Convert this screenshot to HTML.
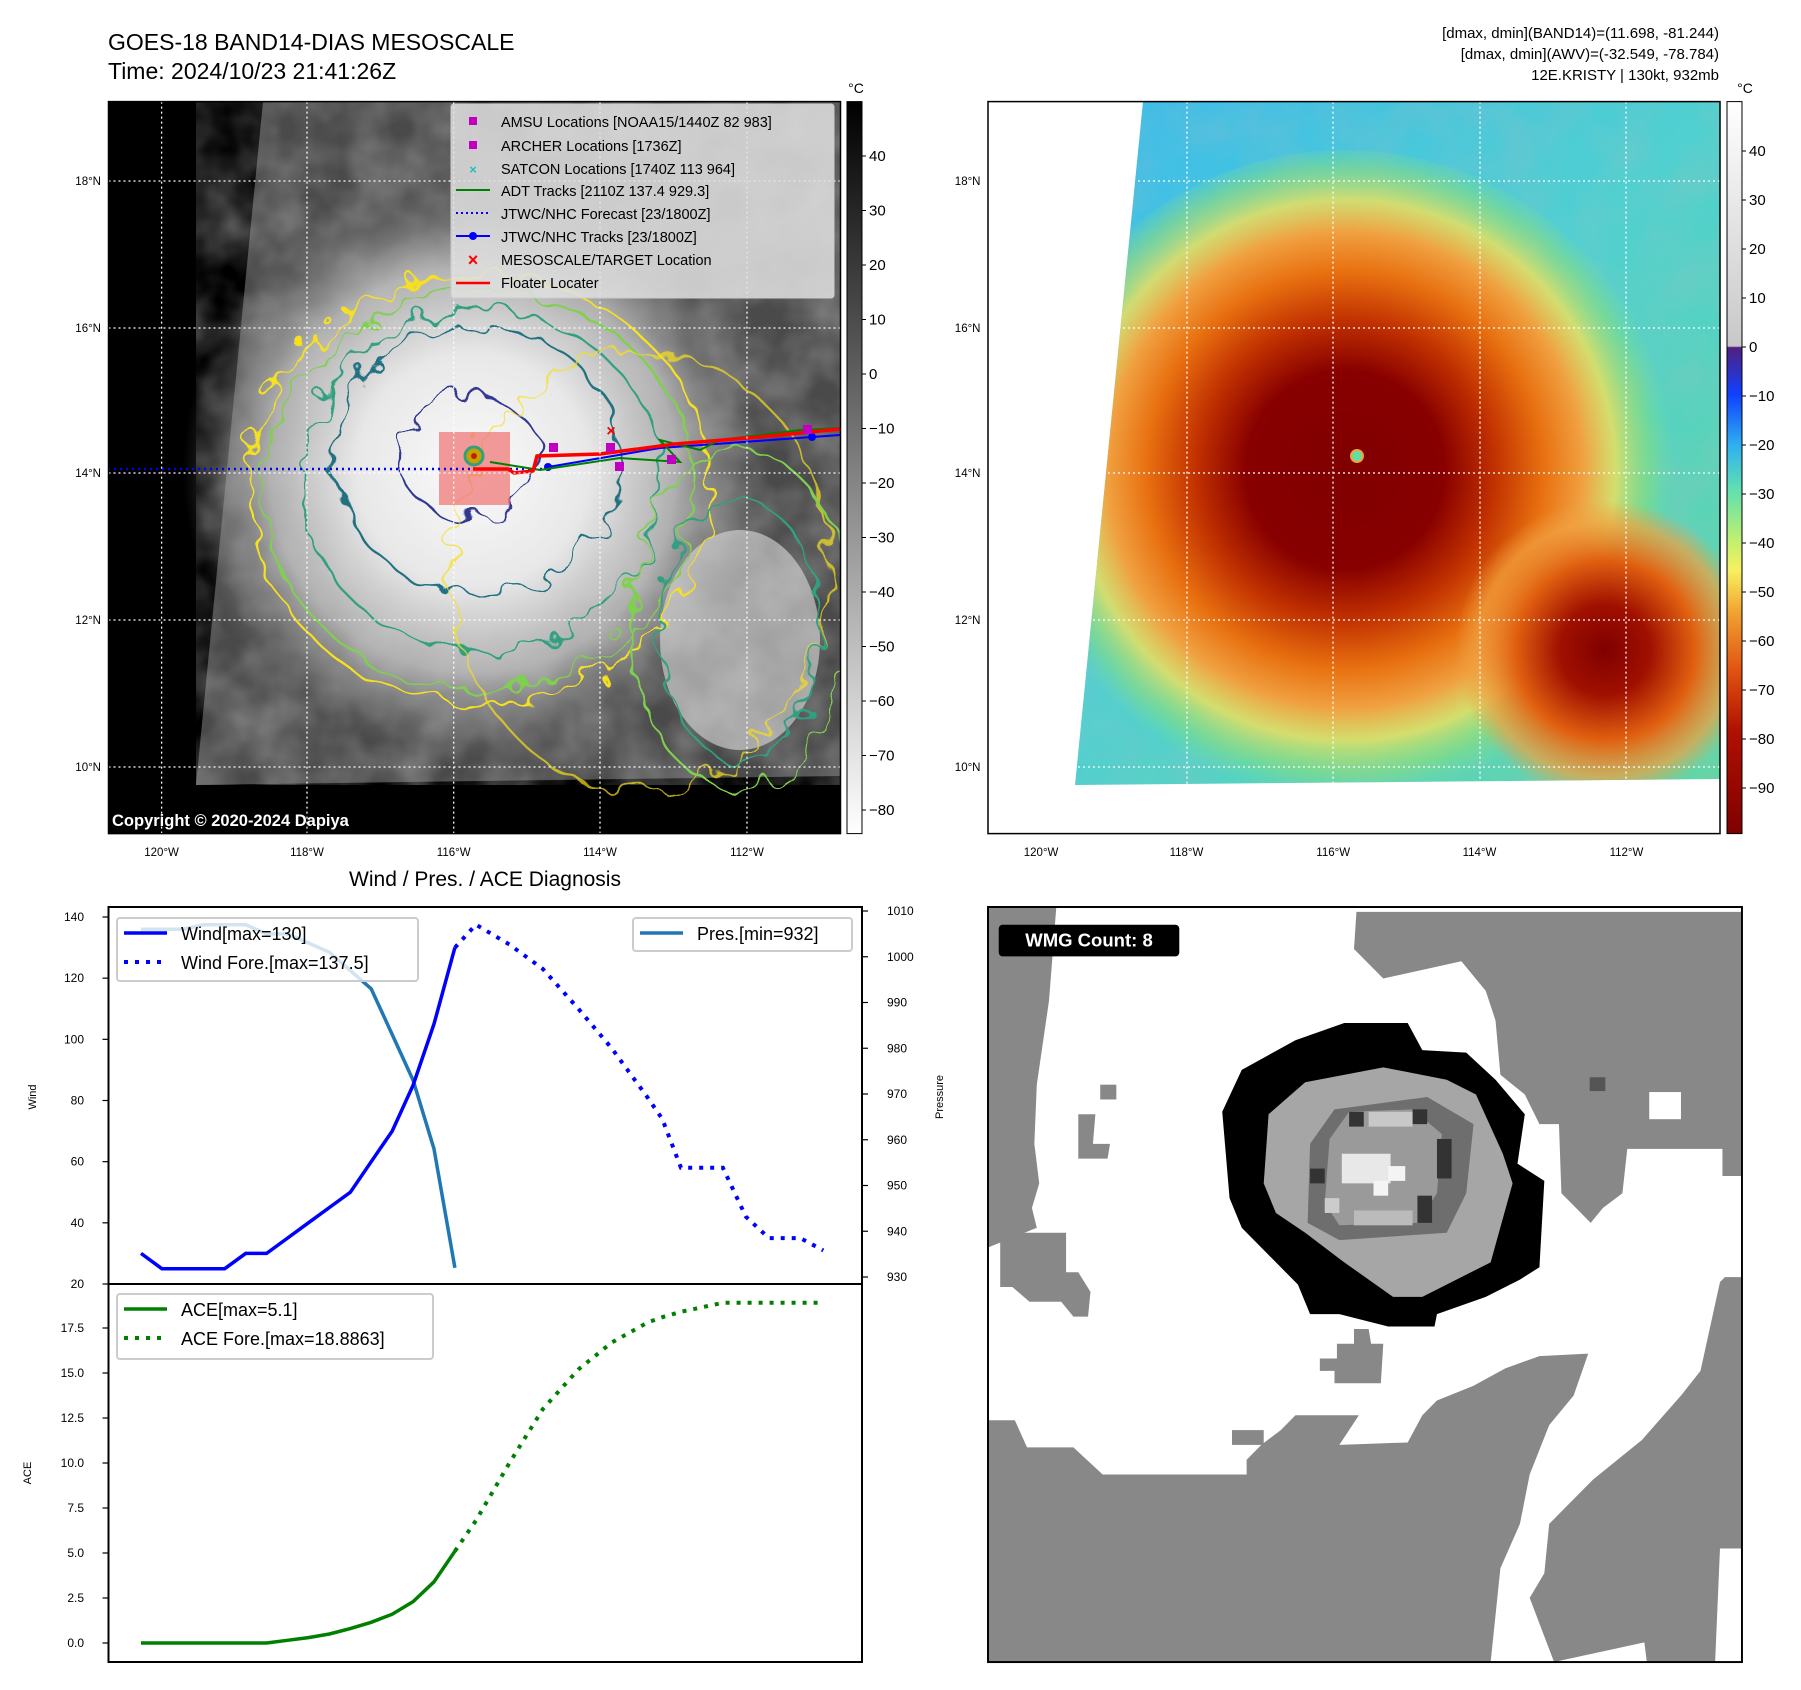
<!DOCTYPE html>
<html><head><meta charset="utf-8">
<style>
html,body{margin:0;padding:0;background:#fff;}
svg{display:block;font-family:"Liberation Sans","DejaVu Sans",sans-serif;}
</style></head>
<body>
<svg id="root" width="1801" height="1690" viewBox="0 0 1801 1690" xmlns="http://www.w3.org/2000/svg">
<defs>
  <filter id="wig" x="-20%" y="-20%" width="140%" height="140%">
    <feTurbulence type="fractalNoise" baseFrequency="0.035" numOctaves="2" seed="3"/>
    <feDisplacementMap in="SourceGraphic" scale="38"/>
  </filter>
  <filter id="tex" x="0" y="0" width="100%" height="100%">
    <feTurbulence type="fractalNoise" baseFrequency="0.02" numOctaves="3" seed="7" result="n"/>
    <feColorMatrix type="matrix" values="0 0 0 0 0.5  0 0 0 0 0.5  0 0 0 0 0.5  0 0 0 0.9 -0.25"/>
  </filter>
  <radialGradient id="gstorm" cx="473" cy="470" r="290" gradientUnits="userSpaceOnUse">
    <stop offset="0" stop-color="#fafafa"/>
    <stop offset="0.4" stop-color="#e8e8e8"/>
    <stop offset="0.7" stop-color="#c0c0c0" stop-opacity="0.85"/>
    <stop offset="1" stop-color="#888" stop-opacity="0"/>
  </radialGradient>
  <radialGradient id="gstorm2" cx="1440" cy="640" r="120" gradientUnits="userSpaceOnUse">
    <stop offset="0" stop-color="#f4f4f4"/>
    <stop offset="1" stop-color="#ccc" stop-opacity="0"/>
  </radialGradient>
  <linearGradient id="cb1" x1="0" y1="0" x2="0" y2="1">
    <stop offset="0" stop-color="#000"/><stop offset="1" stop-color="#fff"/>
  </linearGradient>
  <linearGradient id="cb2" x1="0" y1="0" x2="0" y2="1">
    <stop offset="0" stop-color="#ffffff"/>
    <stop offset="0.334" stop-color="#c8c8c8"/>
    <stop offset="0.336" stop-color="#502080"/>
    <stop offset="0.4" stop-color="#1040ff"/>
    <stop offset="0.47" stop-color="#30b0f0"/>
    <stop offset="0.53" stop-color="#60e0b0"/>
    <stop offset="0.6" stop-color="#c0f070"/>
    <stop offset="0.64" stop-color="#f8f060"/>
    <stop offset="0.7" stop-color="#f0a030"/>
    <stop offset="0.78" stop-color="#e05010"/>
    <stop offset="0.86" stop-color="#b01000"/>
    <stop offset="1" stop-color="#800000"/>
  </linearGradient>
  <linearGradient id="bgIR" x1="0" y1="0" x2="1" y2="1">
    <stop offset="0" stop-color="#38b8f0"/>
    <stop offset="0.5" stop-color="#50d0d0"/>
    <stop offset="1" stop-color="#60d8a0"/>
  </linearGradient>
  <radialGradient id="irstorm" cx="1345" cy="470" r="330" gradientUnits="userSpaceOnUse">
    <stop offset="0" stop-color="#800000"/>
    <stop offset="0.3" stop-color="#880000"/>
    <stop offset="0.45" stop-color="#c03000"/>
    <stop offset="0.6" stop-color="#e87010"/>
    <stop offset="0.72" stop-color="#f0a040"/>
    <stop offset="0.82" stop-color="#e8e060" stop-opacity="0.85"/>
    <stop offset="0.92" stop-color="#90e070" stop-opacity="0.5"/>
    <stop offset="1" stop-color="#70e0a0" stop-opacity="0"/>
  </radialGradient>
  <radialGradient id="irstorm2" cx="1605" cy="650" r="150" gradientUnits="userSpaceOnUse">
    <stop offset="0" stop-color="#800000"/>
    <stop offset="0.3" stop-color="#a01000"/>
    <stop offset="0.6" stop-color="#e06010"/>
    <stop offset="0.85" stop-color="#f0a040" stop-opacity="0.7"/>
    <stop offset="1" stop-color="#f0a040" stop-opacity="0"/>
  </radialGradient>
  <clipPath id="clipL"><rect x="108.5" y="101.6" width="732" height="732"/></clipPath>
  <clipPath id="clipR"><polygon points="1143,101.6 1720,101.6 1720,779 1075,785"/></clipPath>
</defs>

<!-- ===== Top-left map ===== -->
<text x="108" y="50" font-size="23">GOES-18 BAND14-DIAS MESOSCALE</text>
<text x="108" y="79" font-size="23">Time: 2024/10/23 21:41:26Z</text>
<g clip-path="url(#clipL)">
  <rect x="108.5" y="101.6" width="732" height="732" fill="#000"/>
  <polygon points="263,101.6 841,101.6 841,776 196,785" fill="#4a4a4a"/>
  <polygon points="263,101.6 841,101.6 841,776 196,785" fill="#777" filter="url(#tex)" opacity="0.8"/>
  <ellipse cx="473" cy="470" rx="290" ry="290" fill="url(#gstorm)"/>
  <ellipse cx="1440" cy="640" rx="110" ry="140" fill="url(#gstorm2)"/>
  <ellipse cx="740" cy="640" rx="80" ry="110" fill="#ddd" opacity="0.6"/>
  <g filter="url(#wig)" fill="none" stroke-width="2.2">
    <ellipse cx="480" cy="490" rx="230" ry="215" stroke="#f5e020"/>
    <ellipse cx="480" cy="490" rx="215" ry="200" stroke="#80d050"/>
    <ellipse cx="480" cy="480" rx="180" ry="170" stroke="#30a080"/>
    <ellipse cx="478" cy="460" rx="142" ry="135" stroke="#207080"/>
    <ellipse cx="470" cy="458" rx="70" ry="62" stroke="#303890"/>
    <ellipse cx="640" cy="570" rx="190" ry="220" stroke="#f5e020" opacity="0.7"/>
    <ellipse cx="740" cy="620" rx="110" ry="170" stroke="#80d050"/>
    <ellipse cx="740" cy="630" rx="80" ry="130" stroke="#30a080"/>
  </g>
  <rect x="439" y="432" width="71" height="73" fill="#f07070" opacity="0.7"/>
  <circle cx="474" cy="456" r="9" fill="#c8a000" stroke="#30a080" stroke-width="3"/>
  <circle cx="474" cy="456" r="3" fill="#c02000"/>
  <path d="M108,469 L548,469" stroke="#0000ff" stroke-width="2.5" stroke-dasharray="2,4"/>
  <path d="M548,467 L660,448 L840,435" stroke="#0000ff" stroke-width="2" fill="none"/>
  <circle cx="548" cy="467" r="4" fill="#0000ff"/>
  <circle cx="812" cy="437" r="4" fill="#0000ff"/>
  <path d="M490,462 L540,470 L620,458 L680,462 L660,440 L700,450 L720,440 L800,430 L840,428" stroke="#008000" stroke-width="2" fill="none"/>
  <path d="M473,469 L508,469 L514,473 L533,471 L537,456 L600,454 L675,444 L760,437 L840,429" stroke="#ff0000" stroke-width="3.5" fill="none"/>
  <g fill="#c000c0">
    <rect x="549" y="443" width="9" height="9"/><rect x="606" y="443" width="9" height="9"/>
    <rect x="615" y="462" width="9" height="9"/><rect x="667" y="455" width="9" height="9"/>
    <rect x="803" y="425" width="9" height="9"/>
  </g>
  <text x="611" y="436" font-size="16" fill="#f00" font-weight="bold" text-anchor="middle">×</text>
  <g stroke="#fff" stroke-width="1.3" stroke-dasharray="2,3">
    <line x1="161.6" y1="101.6" x2="161.6" y2="833.6"/><line x1="307" y1="101.6" x2="307" y2="833.6"/>
    <line x1="453.7" y1="101.6" x2="453.7" y2="833.6"/><line x1="600" y1="101.6" x2="600" y2="833.6"/>
    <line x1="747" y1="101.6" x2="747" y2="833.6"/>
    <line x1="108.5" y1="181" x2="840.5" y2="181"/><line x1="108.5" y1="328" x2="840.5" y2="328"/>
    <line x1="108.5" y1="473" x2="840.5" y2="473"/><line x1="108.5" y1="620" x2="840.5" y2="620"/>
    <line x1="108.5" y1="767" x2="840.5" y2="767"/>
  </g>
  <text x="112" y="826" font-size="16.5" font-weight="bold" fill="#fff">Copyright © 2020-2024 Dapiya</text>
</g>
<rect x="108.5" y="101.6" width="732" height="732" fill="none" stroke="#000" stroke-width="1.5"/>
<!-- legend -->
<g font-size="14.5">
  <rect x="451" y="104" width="383" height="194" rx="3" fill="#e0e0e0" fill-opacity="0.85" stroke="#ccc"/>
  <rect x="469" y="117" width="8" height="8" fill="#c000c0"/><text x="501" y="127">AMSU Locations [NOAA15/1440Z 82 983]</text>
  <rect x="469" y="141" width="8" height="8" fill="#c000c0"/><text x="501" y="151">ARCHER Locations [1736Z]</text>
  <text x="473" y="174" fill="#20c0c0" font-size="13" text-anchor="middle" font-weight="bold">×</text><text x="501" y="174">SATCON Locations [1740Z 113 964]</text>
  <line x1="456" y1="190" x2="490" y2="190" stroke="#008000" stroke-width="2"/><text x="501" y="196">ADT Tracks [2110Z 137.4 929.3]</text>
  <line x1="456" y1="213" x2="490" y2="213" stroke="#0000ff" stroke-width="2" stroke-dasharray="2,3"/><text x="501" y="219">JTWC/NHC Forecast [23/1800Z]</text>
  <line x1="456" y1="236" x2="490" y2="236" stroke="#0000ff" stroke-width="2"/><circle cx="473" cy="236" r="4" fill="#0000ff"/><text x="501" y="242">JTWC/NHC Tracks [23/1800Z]</text>
  <text x="473" y="266" fill="#f00" font-size="18" text-anchor="middle" font-weight="bold">×</text><text x="501" y="265">MESOSCALE/TARGET Location</text>
  <line x1="456" y1="283" x2="490" y2="283" stroke="#ff0000" stroke-width="2.5"/><text x="501" y="288">Floater Locater</text>
</g>
<!-- colorbar 1 -->
<rect x="847" y="101.6" width="15" height="732" fill="url(#cb1)" stroke="#000" stroke-width="1"/>
<text x="856" y="93" font-size="14" text-anchor="middle">°C</text>
<g id="cb1ticks" font-size="15"></g>

<!-- lat/lon labels -->
<g id="latlon" font-size="11.5"></g>

<!-- ===== Top-right map ===== -->
<g font-size="15" text-anchor="end">
  <text x="1719" y="38">[dmax, dmin](BAND14)=(11.698, -81.244)</text>
  <text x="1719" y="59">[dmax, dmin](AWV)=(-32.549, -78.784)</text>
  <text x="1719" y="80">12E.KRISTY | 130kt, 932mb</text>
</g>
<g>
  <rect x="988" y="101.6" width="732" height="732" fill="#fff"/>
  <g clip-path="url(#clipR)">
    <rect x="988" y="101.6" width="732" height="732" fill="url(#bgIR)"/>
    <rect x="988" y="101.6" width="732" height="732" fill="#3a8" filter="url(#tex)" opacity="0.35"/>
    <ellipse cx="1345" cy="480" rx="330" ry="330" fill="url(#irstorm)"/>
    <ellipse cx="1605" cy="660" rx="150" ry="170" fill="url(#irstorm2)"/>
    <circle cx="1357" cy="456" r="6" fill="#60e0a0" stroke="#f0a040" stroke-width="2"/>
  </g>
  <g stroke="#fff" stroke-width="1.3" stroke-dasharray="2,3">
    <line x1="1041" y1="101.6" x2="1041" y2="833.6"/><line x1="1187" y1="101.6" x2="1187" y2="833.6"/>
    <line x1="1333" y1="101.6" x2="1333" y2="833.6"/><line x1="1480" y1="101.6" x2="1480" y2="833.6"/>
    <line x1="1626" y1="101.6" x2="1626" y2="833.6"/>
    <line x1="988" y1="181" x2="1720" y2="181"/><line x1="988" y1="328" x2="1720" y2="328"/>
    <line x1="988" y1="473" x2="1720" y2="473"/><line x1="988" y1="620" x2="1720" y2="620"/>
    <line x1="988" y1="767" x2="1720" y2="767"/>
  </g>
  <rect x="988" y="101.6" width="732" height="732" fill="none" stroke="#000" stroke-width="1.5"/>
</g>
<rect x="1727" y="101.6" width="15" height="732" fill="url(#cb2)" stroke="#000" stroke-width="1"/>
<text x="1745" y="93" font-size="14" text-anchor="middle">°C</text>
<g id="cb2ticks" font-size="15"></g>

<!-- ===== Bottom-left charts ===== -->
<text x="485" y="886" font-size="21" text-anchor="middle">Wind / Pres. / ACE Diagnosis</text>
<g id="charts"></g>

<!-- ===== Bottom-right WMG ===== -->
<g transform="translate(988,907) scale(0.488,0.4935)">
  <rect x="0" y="0" width="1545" height="1530" fill="#fff"/>
  <g fill="#888">
    <polygon points="755,10 1545,10 1545,545 1505,545 1505,490 1310,490 1300,580 1260,610 1235,640 1205,610 1175,580 1170,440 1130,440 1100,380 1050,340 1040,230 1020,170 970,110 810,145 750,85"/>
    <polygon points="0,0 140,0 125,190 100,360 95,480 105,560 90,610 100,650 0,690"/>
    <polygon points="25,660 160,660 160,740 185,740 210,780 205,830 175,830 150,800 85,800 50,770 25,770"/>
    <polygon points="185,420 220,420 215,480 250,480 245,510 185,510"/>
    <rect x="230" y="360" width="33" height="30"/>
    <polygon points="0,1040 55,1040 80,1095 175,1095 235,1150 530,1150 530,1120 560,1090 600,1060 630,1030 760,1030 720,1090 860,1085 890,1030 920,1000 995,970 1060,935 1130,910 1230,905 1200,990 1150,1050 1110,1150 1090,1250 1050,1340 1030,1530 0,1530"/>
    <polygon points="1510,750 1545,750 1545,1300 1500,1300 1490,1530 1350,1530 1345,1490 1160,1530 1110,1400 1140,1350 1150,1250 1240,1160 1340,1080 1420,990 1460,940 1500,760"/>
    <polygon points="680,915 715,915 715,885 750,885 750,855 780,855 785,885 810,885 805,965 710,965 710,940 680,940"/>
    <rect x="500" y="1060" width="65" height="30"/>
  </g>
  <rect x="1355" y="375" width="65" height="55" fill="#fff"/>
  <rect x="1233" y="345" width="32" height="28" fill="#555"/>
  <polygon points="480,415 520,330 630,270 730,235 860,235 890,290 980,295 1040,350 1100,420 1085,520 1140,555 1130,730 1090,755 1020,790 920,825 915,850 820,850 720,825 660,825 635,765 580,710 520,650 495,590" fill="#000"/>
  <polygon points="565,560 575,420 650,355 810,325 940,350 1000,380 1055,500 1075,560 1030,720 890,790 830,790 730,720 650,660 590,620" fill="#a6a6a6"/>
  <polygon points="660,480 710,410 900,385 995,440 980,580 940,660 720,675 655,640" fill="#6e6e6e"/>
  <polygon points="700,470 740,415 870,410 930,460 920,580 880,640 720,645 690,600" fill="#9a9a9a"/>
  <rect x="740" y="415" width="30" height="30" fill="#333"/>
  <rect x="870" y="410" width="30" height="30" fill="#333"/>
  <rect x="920" y="470" width="30" height="80" fill="#333"/>
  <rect x="660" y="530" width="30" height="30" fill="#333"/>
  <rect x="880" y="585" width="30" height="55" fill="#333"/>
  <rect x="780" y="415" width="90" height="30" fill="#c8c8c8"/>
  <rect x="725" y="500" width="100" height="60" fill="#e8e8e8"/>
  <rect x="790" y="555" width="30" height="30" fill="#f4f4f4"/>
  <rect x="820" y="525" width="35" height="30" fill="#f4f4f4"/>
  <rect x="690" y="590" width="30" height="30" fill="#ccc"/>
  <rect x="750" y="615" width="120" height="30" fill="#bbb"/>
  <rect x="0" y="0" width="1545" height="1530" fill="none" stroke="#000" stroke-width="4"/>
  <rect x="22" y="36" width="370" height="64" rx="8" fill="#000"/>
  <text x="207" y="80" font-size="38" font-weight="bold" fill="#fff" text-anchor="middle">WMG Count: 8</text>
</g>
</svg>

<script>
// ===== Chart data =====
const obsIndex = [0,1,2,3,4,5,6,7,8,9,10,11,12,13,14,15];
const windObs = [30,25,25,25,25,30,30,35,40,45,50,60,70,85,105,130];
const presObs = [1006,1006,1006,1007,1007,1007,1005,1005,1003,1001,997,993,983,973,958,932];
const aceObs = [0,0,0,0,0,0,0,0.15,0.3,0.5,0.8,1.15,1.6,2.3,3.4,5.1];
const foreIndex = [15,16,17.6,19.2,20.9,22.5,24.2,24.9,25.8,27.8,28.9,30,31.5,32.6];
const windFore = [130,137.5,131,123,110,97,81,74,58,58,42,35,35,31];
const aceFore = [5.1,6.8,10,13,15.2,16.7,17.8,18.1,18.4,18.9,18.9,18.9,18.9,18.9];
const windTicks = [20,40,60,80,100,120,140];
const presTicks = [930,940,950,960,970,980,990,1000,1010];
const aceTicks = [0,2.5,5,7.5,10,12.5,15,17.5];
const cb1Ticks = [40,30,20,10,0,-10,-20,-30,-40,-50,-60,-70,-80];
const cb2Ticks = [40,30,20,10,0,-10,-20,-30,-40,-50,-60,-70,-80,-90];
const lonTicks = ['120°W','118°W','116°W','114°W','112°W'];
const latTicks = ['18°N','16°N','14°N','12°N','10°N'];

const NS='http://www.w3.org/2000/svg';
function mk(tag, attrs, parent){const e=document.createElementNS(NS,tag);for(const k in attrs)e.setAttribute(k,attrs[k]);parent.appendChild(e);return e;}

const X0=108.5, X1=862;
const xs = i => 141 + i*20.93;
const wy = v => 1284 - (v-20)*(367/120);
const py = p => 1277 - (p-930)*(366/80);
const ay = a => 1643 - a*18;
const c1y = v => 156 + (40-v)*5.45;
const c2y = v => 151 + (40-v)*4.9;

const ch=document.getElementById('charts');
const f1=mk('rect',{x:X0,y:907,width:X1-X0,height:377,fill:'none',stroke:'#000','stroke-width':2},ch);


const f2=mk('rect',{x:X0,y:1284,width:X1-X0,height:378,fill:'none',stroke:'#000','stroke-width':2},ch);



function path(xsArr, ysArr, fx, fy){return xsArr.map((x,i)=>(i?'L':'M')+fx(x).toFixed(1)+','+fy(ysArr[i]).toFixed(1)).join(' ');}

windTicks.forEach(v=>{
  mk('line',{x1:X0-6,x2:X0,y1:wy(v),y2:wy(v),stroke:'#000','stroke-width':1.2},ch);
  const t=mk('text',{x:84,y:wy(v)+4,'font-size':12,'text-anchor':'end'},ch);t.textContent=v;
  
  
});
presTicks.forEach(v=>{
  mk('line',{x1:X1,x2:X1+6,y1:py(v),y2:py(v),stroke:'#000','stroke-width':1.2},ch);
  const t=mk('text',{x:887,y:py(v)+4,'font-size':12},ch);t.textContent=v;
  
  
});
aceTicks.forEach(v=>{
  mk('line',{x1:X0-6,x2:X0,y1:ay(v),y2:ay(v),stroke:'#000','stroke-width':1.2},ch);
  const t=mk('text',{x:84,y:ay(v)+4,'font-size':12,'text-anchor':'end'},ch);t.textContent=v.toFixed(1);
  
  
});
[['Wind',36,1097],['Pressure',943,1097],['ACE',31,1473]].forEach(([s,x,y])=>{
  const t=mk('text',{x:x,y:y,'font-size':11,'text-anchor':'middle',transform:`rotate(-90 ${x} ${y})`},ch);t.textContent=s;
  
  
});

const pres=mk('path',{d:path(obsIndex,presObs,xs,py),fill:'none',stroke:'#1f77b4','stroke-width':3.5},ch);


const wo=mk('path',{d:path(obsIndex,windObs,xs,wy),fill:'none',stroke:'#0000ff','stroke-width':3.5},ch);


const wf=mk('path',{d:path(foreIndex,windFore,xs,wy),fill:'none',stroke:'#0000ff','stroke-width':4,'stroke-dasharray':'4,7'},ch);


const ao=mk('path',{d:path(obsIndex,aceObs,xs,ay),fill:'none',stroke:'#008000','stroke-width':3.5},ch);


const af=mk('path',{d:path(foreIndex,aceFore,xs,ay),fill:'none',stroke:'#008000','stroke-width':4,'stroke-dasharray':'4,7'},ch);



function legend(name,x,y,w,h,items){
  const g=mk('g',{},ch);
  
  
  mk('rect',{x:x,y:y,width:w,height:h,rx:3,fill:'#fff','fill-opacity':0.8,stroke:'#ccc','stroke-width':2},g);
  items.forEach((it,i)=>{
    const ly=y+15+i*29;
    const a={x1:x+7,x2:x+50,y1:ly,y2:ly,stroke:it[1],'stroke-width':it[2]?4:3.5};
    if(it[2])a['stroke-dasharray']='4,7';
    mk('line',a,g);
    const t=mk('text',{x:x+64,y:ly+7,'font-size':18},g);t.textContent=it[0];
  });
}
legend('wind-legend',117,918,301,63,[['Wind[max=130]','#0000ff',0],['Wind Fore.[max=137.5]','#0000ff',1]]);
legend('pressure-legend',633,918,219,33,[['Pres.[min=932]','#1f77b4',0]]);
legend('ace-legend',117,1294,316,65,[['ACE[max=5.1]','#008000',0],['ACE Fore.[max=18.8863]','#008000',1]]);

const cb1=document.getElementById('cb1ticks');
cb1Ticks.forEach(v=>{
  mk('line',{x1:862,x2:866,y1:c1y(v),y2:c1y(v),stroke:'#000'},cb1);
  const t=mk('text',{x:869,y:c1y(v)+5},cb1);t.textContent=v<0?'\u2212'+(-v):v;
});
const cb2=document.getElementById('cb2ticks');
cb2Ticks.forEach(v=>{
  mk('line',{x1:1742,x2:1746,y1:c2y(v),y2:c2y(v),stroke:'#000'},cb2);
  const t=mk('text',{x:1749,y:c2y(v)+5},cb2);t.textContent=v<0?'\u2212'+(-v):v;
});

const ll=document.getElementById('latlon');
const lonX=[161.6,307,453.7,600,747], latY=[181,328,473,620,767];
[0,879.5].forEach(off=>{
  lonTicks.forEach((s,i)=>{const t=mk('text',{x:lonX[i]+off,y:856,'text-anchor':'middle'},ll);t.textContent=s;
    
    });
  latTicks.forEach((s,i)=>{const t=mk('text',{x:101+off,y:latY[i]+4,'text-anchor':'end'},ll);t.textContent=s;
    
    });
});
</script>
</body></html>
